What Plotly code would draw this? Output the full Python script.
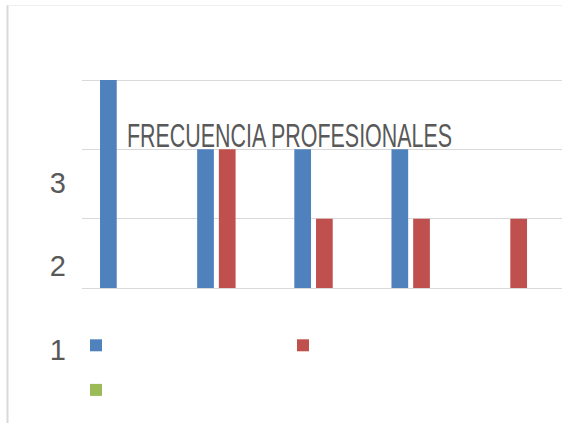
import plotly.graph_objects as go

# Chart data
categories = ["A", "B", "C", "D", "E"]
serie1 = [3, 2, 2, 2, 0]
serie2 = [0, 2, 1, 1, 1]
serie3 = [0, 0, 0, 0, 0]
tick_values = [1, 2, 3]
tick_labels = ["1", "2", "3"]
title_text = "FRECUENCIA PROFESIONALES"

W, H = 562, 423
BLUE, RED, GREEN = "#4F81BD", "#C0504D", "#9BBB59"
GRID = "#D9D9D9"
TEXT = "#595959"

# plot box of the bar axes (pixels from the top)
PLOT_TOP, PLOT_BOTTOM = 80, 288
YMAX = 3.03
unit = (PLOT_BOTTOM - PLOT_TOP) / 3.0
top_px = PLOT_BOTTOM - YMAX * unit

fig = go.Figure()
for vals, col in [(serie1, BLUE), (serie2, RED), (serie3, GREEN)]:
    fig.add_trace(go.Bar(x=categories, y=vals, name=" ", marker=dict(color=col, line=dict(width=0)),
                         hoverinfo="skip"))

# helper trace so the value-label axis is drawn
fig.add_trace(go.Scatter(x=[None], y=[None], yaxis="y2", showlegend=False, hoverinfo="skip"))

fig.update_layout(
    width=W, height=H,
    margin=dict(l=0, r=0, t=0, b=0),
    paper_bgcolor="white", plot_bgcolor="rgba(0,0,0,0)",
    barmode="group", bargap=0.33, bargroupgap=0.23,
    title=dict(text=title_text, xref="container", yref="container",
               x=289.5 / W, xanchor="center", y=1 - 135 / H, yanchor="middle",
               font=dict(family="Liberation Sans, Arial, sans-serif", size=33, color=TEXT)),
    xaxis=dict(domain=[81.5 / W, 1], range=[-0.5, 4.446], showticklabels=False,
               showgrid=False, zeroline=False, ticks=""),
    yaxis=dict(domain=[1 - PLOT_BOTTOM / H, 1 - top_px / H], range=[0, YMAX], dtick=1,
               showticklabels=False, showgrid=True, gridcolor=GRID, gridwidth=1.3,
               zeroline=True, zerolinecolor=GRID, zerolinewidth=1.3, ticks=""),
    yaxis2=dict(domain=[0, 1], range=[0.117, 5.198], anchor="free", position=66 / W,
                side="left", tickvals=tick_values, ticktext=tick_labels,
                showgrid=False, zeroline=False, ticks="", showline=False,
                tickfont=dict(family="Liberation Sans, Arial, sans-serif", size=29, color=TEXT)),
    showlegend=True,
    legend=dict(orientation="h", x=76 / W, xanchor="left", y=1 - 318 / H, yanchor="top",
                entrywidth=162, entrywidthmode="pixels", font=dict(size=32),
                bgcolor="rgba(0,0,0,0)"),
    shapes=[
        dict(type="line", xref="paper", yref="paper", x0=7.5 / W, x1=7.5 / W, y0=-0.05,
             y1=1 - 5 / H, line=dict(color=GRID, width=2)),
        dict(type="line", xref="paper", yref="paper", x0=7.5 / W, x1=1.05, y0=1 - 5.5 / H,
             y1=1 - 5.5 / H, line=dict(color="#EFEFEF", width=1)),
    ],
)

# the chart title is set in a condensed style: fit its glyphs into a fixed run length
condense_title = """
var gd = document.getElementsByClassName('plotly-graph-div')[0];
function condense() {
  var t = gd.querySelector('.gtitle');
  if (t) { t.setAttribute('textLength', '325'); t.setAttribute('lengthAdjust', 'spacingAndGlyphs'); }
}
condense();
gd.on('plotly_afterplot', condense);
"""

fig.write_html("out.html", post_script=condense_title)
